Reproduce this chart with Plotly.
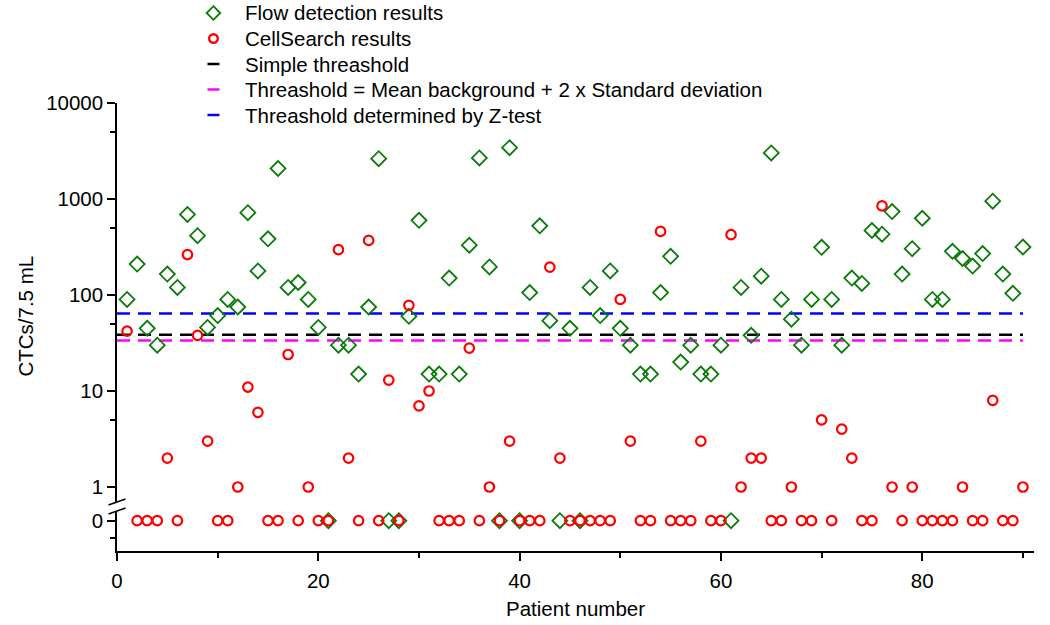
import plotly.graph_objects as go

patients = list(range(1, 91))

flow = [90, 210, 45, 30, 165, 120, 690, 415, 46, 61,
        90, 75, 720, 178, 385, 2080, 120, 135, 90, 46,
        0, 30, 30, 15, 75, 2630, 0, 0, 60, 600,
        15, 15, 150, 15, 330, 2680, 196, 0, 3420, 0,
        106, 525, 54, 0, 45, 0, 120, 61, 178, 45,
        30, 15, 15, 106, 253, 20, 30, 15, 15, 30,
        0, 120, 38, 157, 3020, 90, 56, 30, 90, 314,
        90, 30, 150, 132, 470, 430, 740, 165, 304, 630,
        90, 90, 285, 240, 200, 270, 950, 165, 104, 316]

cellsearch = [42, 0, 0, 0, 2, 0, 264, 38, 3, 0,
              0, 1, 11, 6, 0, 0, 24, 0, 1, 0,
              0, 297, 2, 0, 370, 0, 13, 0, 78, 7,
              10, 0, 0, 0, 28, 0, 1, 0, 3, 0,
              0, 0, 195, 2, 0, 0, 0, 0, 0, 90,
              3, 0, 0, 460, 0, 0, 0, 3, 0, 0,
              425, 1, 2, 2, 0, 0, 1, 0, 0, 5,
              0, 4, 2, 0, 0, 847, 1, 0, 1, 0,
              0, 0, 0, 1, 0, 0, 8, 0, 0, 1]

series_names = ["Flow detection results", "CellSearch results"]
threshold_names = ["Simple threashold",
                   "Threashold = Mean background + 2 x Standard deviation",
                   "Threashold determined by Z-test"]
threshold_values = [38.5, 33.5, 64]
threshold_colors = ["#000000", "#ff00ff", "#0000ff"]
threshold_x = [0, 90]

log_ticks = [1, 10, 100, 1000, 10000]
log_minor = [5, 50, 500, 5000]
x_ticks = [0, 20, 40, 60, 80]
x_minor = [10, 30, 50, 70, 90]

GREEN = "#0a7a0a"
RED = "#ff0000"
FONT = "Liberation Sans, Arial, sans-serif"
FS = 20.5

# plot-area geometry in screenshot pixels
L, R, T, B = 116.5, 1034.0, 103.0, 551.0
W, H = R - L, B - T


def px(x):
    return (x - L) / W


def py(y):
    return (B - y) / H


fig = go.Figure()

# threshold lines (on the log axis)
for name, val, col in zip(threshold_names, threshold_values, threshold_colors):
    fig.add_trace(go.Scatter(x=threshold_x, y=[val, val], mode="lines", name=name,
                             line=dict(color=col, width=2.5, dash="13px,8px"),
                             yaxis="y", showlegend=False, hoverinfo="skip"))


def split(vals):
    nz_x = [p for p, v in zip(patients, vals) if v > 0]
    nz_y = [v for v in vals if v > 0]
    z_x = [p for p, v in zip(patients, vals) if v == 0]
    z_y = [0 for v in vals if v == 0]
    return nz_x, nz_y, z_x, z_y


fx, fy, fzx, fzy = split(flow)
cx, cy, czx, czy = split(cellsearch)

dia = dict(symbol="diamond-open", size=11.5, color=GREEN, line=dict(width=1.8, color=GREEN))
cir = dict(symbol="circle-open", size=9.5, color=RED, line=dict(width=2.2, color=RED))

fig.add_trace(go.Scatter(x=fx, y=fy, mode="markers", marker=dia, yaxis="y",
                         name=series_names[0], showlegend=False))
fig.add_trace(go.Scatter(x=fzx, y=fzy, mode="markers", marker=dia, yaxis="y2",
                         name=series_names[0], showlegend=False))
fig.add_trace(go.Scatter(x=cx, y=cy, mode="markers", marker=cir, yaxis="y",
                         name=series_names[1], showlegend=False))
fig.add_trace(go.Scatter(x=czx, y=czy, mode="markers", marker=cir, yaxis="y2",
                         name=series_names[1], showlegend=False))

# ---- manual legend (compact rows like the original) ----
legend_labels = series_names + threshold_names
row_y = [13, 38.5, 64, 89.5, 115]
sw_x = 213.0
text_x = 244.0
annotations = []
shapes = []
for lab, ry in zip(legend_labels, row_y):
    annotations.append(dict(x=px(text_x), y=py(ry), xref="paper", yref="paper",
                            text=lab, showarrow=False, xanchor="left", yanchor="middle",
                            font=dict(family=FONT, size=FS, color="black"), borderpad=0))
# diamond swatch
d = 6.8
shapes.append(dict(type="path", xref="paper", yref="paper",
                   path=(f"M {px(sw_x)},{py(row_y[0]-d)} L {px(sw_x+d)},{py(row_y[0])} "
                         f"L {px(sw_x)},{py(row_y[0]+d)} L {px(sw_x-d)},{py(row_y[0])} Z"),
                   line=dict(color=GREEN, width=1.8)))
# circle swatch
rc = 4.3
shapes.append(dict(type="circle", xref="paper", yref="paper",
                   x0=px(sw_x - rc), x1=px(sw_x + rc),
                   y0=py(row_y[1] + rc), y1=py(row_y[1] - rc),
                   line=dict(color=RED, width=2.4)))
# line swatches
for col, ry in zip(threshold_colors, row_y[2:]):
    shapes.append(dict(type="line", xref="paper", yref="paper",
                       x0=px(sw_x - 6), x1=px(sw_x + 6), y0=py(ry), y1=py(ry),
                       line=dict(color=col, width=2.5)))

# axis break marks
for y0 in (505.0, 514.0):
    shapes.append(dict(type="line", xref="paper", yref="paper",
                       x0=px(108), y0=py(y0), x1=px(125), y1=py(y0 - 6),
                       line=dict(color="black", width=1.5)))

# axis titles
annotations.append(dict(x=px(575), y=py(608), xref="paper", yref="paper",
                        text="Patient number", showarrow=False,
                        xanchor="center", yanchor="middle",
                        font=dict(family=FONT, size=FS, color="black")))
annotations.append(dict(x=px(24), y=py(316), xref="paper", yref="paper",
                        text="CTCs/7.5 mL", showarrow=False, textangle=-90,
                        xanchor="center", yanchor="middle",
                        font=dict(family=FONT, size=FS, color="black")))

main_bottom = 502.0
low_top = 511.0
decade = 96.0
zero_px = 520.7
unit2 = (B - zero_px) / 1.0

axis_common = dict(showline=True, linecolor="black", linewidth=1.5,
                   ticks="outside", ticklen=8, tickwidth=1.5, tickcolor="black",
                   showgrid=False, zeroline=False,
                   tickfont=dict(family=FONT, size=FS, color="black"))

fig.update_layout(
    width=1050, height=625,
    margin=dict(l=L, r=1050 - R, t=T, b=625 - B, pad=0),
    paper_bgcolor="white", plot_bgcolor="white",
    font=dict(family=FONT, size=FS, color="black"),
    showlegend=False,
    annotations=annotations,
    shapes=shapes,
    xaxis=dict(range=[0, 91.1], anchor="y2", tickvals=x_ticks,
               minor=dict(tickvals=x_minor, ticks="outside", ticklen=5, tickwidth=1.5),
               ticklabelstandoff=3, **axis_common),
    yaxis=dict(type="log", domain=[py(main_bottom), 1],
               range=[-(main_bottom - 487.0) / decade, 4],
               tickvals=log_ticks, ticktext=[str(v) for v in log_ticks],
               minor=dict(tickvals=log_minor, ticks="outside", ticklen=5, tickwidth=1.5),
               anchor="x", **axis_common),
    yaxis2=dict(domain=[0, py(low_top)],
                range=[-1, (zero_px - low_top) / unit2],
                tickvals=[0], ticktext=["0"],
                minor=dict(tickvals=[-0.58], ticks="outside", ticklen=5, tickwidth=1.5),
                anchor="x", **axis_common),
)

# remove the browser's default 8 px body margin so the figure fills the window exactly
fig.write_html("out.html",
               config={"displayModeBar": False},
               post_script="document.body.style.margin='0px';document.body.style.overflow='hidden';")
